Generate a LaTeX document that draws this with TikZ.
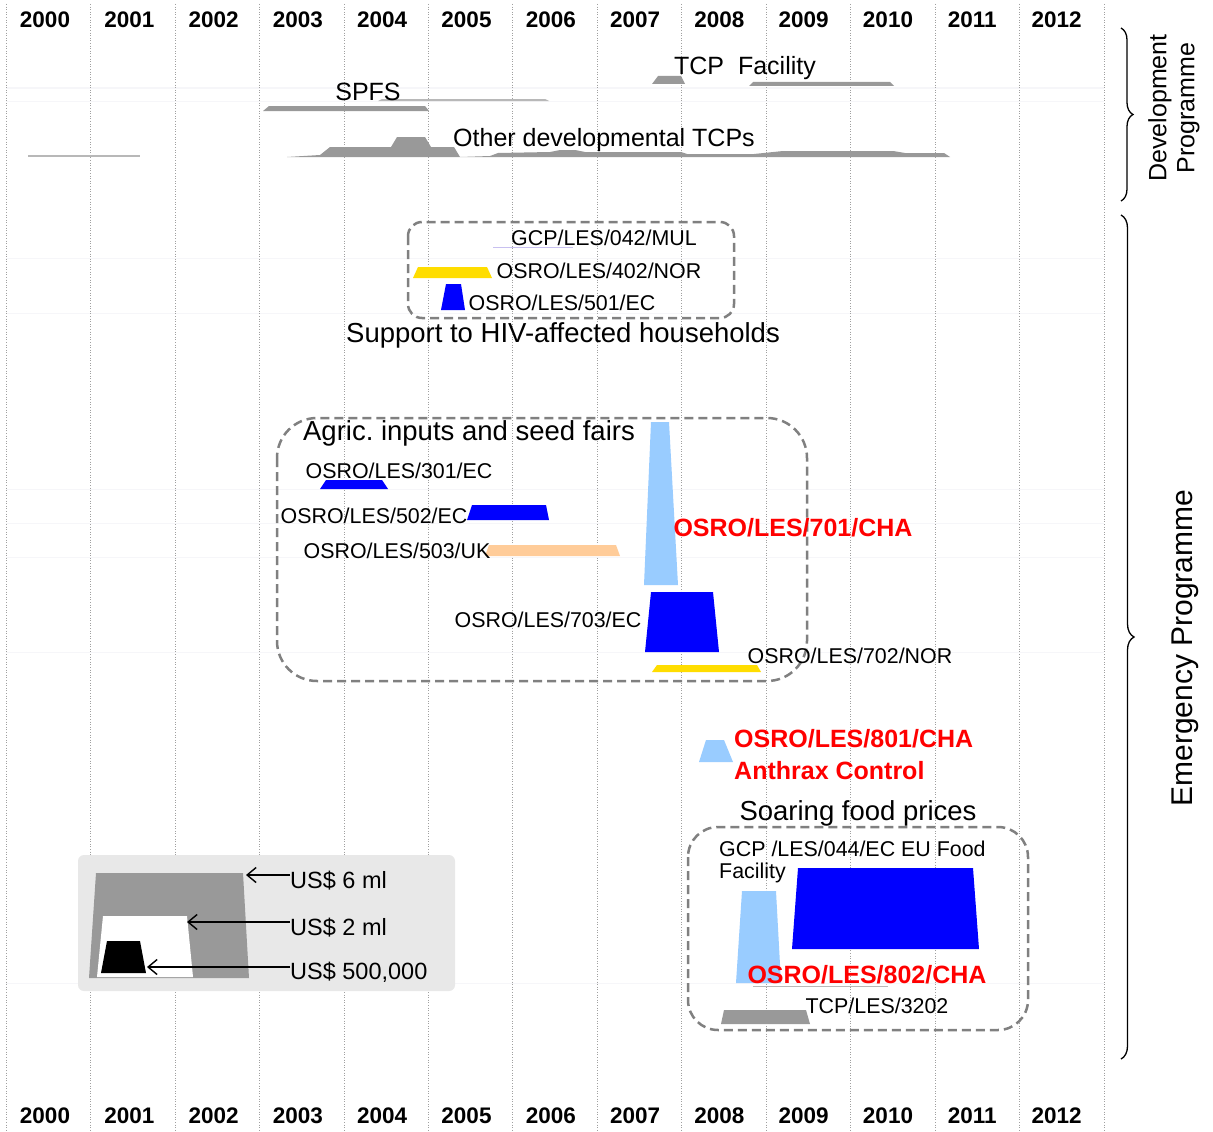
\documentclass[tikz,border=0pt]{standalone}
\usepackage{fontspec}
\setmainfont{Liberation Sans}
\usetikzlibrary{arrows.meta,decorations.pathreplacing}
\definecolor{gridgrey}{HTML}{A0A0A0}
\definecolor{bargrey}{HTML}{999999}
\definecolor{thingrey}{HTML}{B8B8B8}
\definecolor{boxgrey}{HTML}{808080}
\definecolor{legendbg}{HTML}{E8E8E8}
\definecolor{fundblue}{HTML}{0000FF}
\definecolor{fundlight}{HTML}{99CCFF}
\definecolor{fundyellow}{HTML}{FFDD00}
\definecolor{fundpeach}{HTML}{FFCC99}
\definecolor{fundred}{HTML}{FF0000}
\definecolor{faintline}{HTML}{F6F6F9}
\definecolor{lilac}{HTML}{C8C0F0}
% trapezoid bar: colour, bottom-left x, bottom-right x, top-left x, top-right x, top y, bottom y
\newcommand\fundbar[7]{\fill[#1] (#2,#7) -- (#3,#7) -- (#5,#6) -- (#4,#6) -- cycle;}
\tikzset{
  yearlab/.style={font=\fontsize{22.5}{26}\selectfont\bfseries, inner sep=0pt},
  projlab/.style={font=\fontsize{21.4}{25}\selectfont, inner sep=0pt},
  grouplab/.style={font=\fontsize{27.5}{31}\selectfont, inner sep=0pt},
  devlab/.style={font=\fontsize{25}{29}\selectfont, inner sep=0pt},
  redlab/.style={font=\fontsize{25}{29}\selectfont\bfseries, text=fundred, inner sep=0pt},
  leglab/.style={font=\fontsize{23.5}{28}\selectfont, inner sep=0pt, anchor=west},
  groupbox/.style={draw=boxgrey, line width=2.5pt, dash pattern=on 9pt off 5pt},
  legarrow/.style={line width=1.4pt, -{Straight Barb[length=9pt,width=15pt,line width=1.4pt]}},
  gridline/.style={gridgrey, line width=0.6pt, dotted},
  bracepath/.style={decorate, line width=1.3pt},
}
\begin{document}
\begin{tikzpicture}[x=1pt,y=-1pt]
\useasboundingbox (0,0) rectangle (1213,1132);
\fill[white] (0,0) rectangle (1213,1132);

% faint horizontal guide lines
\foreach \yy in {88,101,258,313,489,523,557,652,983}
  \draw[faintline, line width=1pt] (6,\yy) -- (1104,\yy);

% yearly grid
\foreach \k in {0,...,13}
  \draw[gridline] ({6+84.46*\k},4) -- ({6+84.46*\k},1132);

% year labels, top and bottom
\foreach \k/\yr in {0/2000,1/2001,2/2002,3/2003,4/2004,5/2005,6/2006,7/2007,8/2008,9/2009,10/2010,11/2011,12/2012}{
  \node[yearlab] (yt\yr) at ({45+84.3*\k},20) {\yr};
  \node[yearlab] (yb\yr) at ({45+84.3*\k},1116) {\yr};
}

% ---- development programme ----
\draw[thingrey, line width=2pt] (28,156) -- (140,156);
\fill[thingrey] (378,101) -- (382,99) -- (545,99) -- (549,101) -- cycle;
\fundbar{bargrey}{263}{429}{269}{425}{106}{111}
\node[devlab] (spfs) at (368,92) {SPFS};
\fundbar{bargrey}{652}{685}{658}{681}{76}{84}
\fundbar{bargrey}{749}{894}{753}{890}{82}{86}
\node[devlab] (tcpf) at (745,68) {TCP\ \ Facility};
\fill[bargrey] (287,157) -- (320,155) -- (330,147) -- (391,147) -- (397,137)
  -- (425,137) -- (431,147) -- (454,147) -- (460,157) -- (490,156) -- (498,153)
  -- (550,152) -- (560,150) -- (575,150) -- (585,152) -- (681,152) -- (687,154)
  -- (754,154) -- (783,151) -- (893,151) -- (905,153) -- (944,153) -- (950,157) -- cycle;
\node[devlab] (otcp) at (604,140) {Other developmental TCPs};

% ---- support to HIV-affected households ----
\draw[groupbox, rounded corners=14pt] (408,222) rectangle (734,318);
\draw[lilac, line width=1pt] (493,247) -- (573,247);
\node[projlab] (p042) at (604,238) {GCP/LES/042/MUL};
\fundbar{fundyellow}{413}{492}{418}{487}{267}{278}
\node[projlab] (p402) at (599,271) {OSRO/LES/402/NOR};
\fundbar{fundblue}{441}{465}{446}{461}{284}{310}
\node[projlab] (p501) at (562,303) {OSRO/LES/501/EC};
\node[grouplab] (ghiv) at (563,335) {Support to HIV-affected households};

% ---- agricultural inputs and seed fairs ----
\draw[groupbox, rounded corners=40pt] (277,418) rectangle (807,681);
\node[grouplab] (gagr) at (469,433) {Agric.\ inputs and seed fairs};
\fundbar{fundblue}{320}{388}{326}{382}{480}{489}
\node[projlab] (p301) at (399,471) {OSRO/LES/301/EC};
\fundbar{fundblue}{467}{549}{472}{546}{505}{520}
\node[projlab] (p502) at (374,516) {OSRO/LES/502/EC};
\fundbar{fundpeach}{485}{620}{489}{616}{545}{556}
\node[projlab] (p503) at (397,551) {OSRO/LES/503/UK};
\fundbar{fundlight}{644}{678}{651}{669}{422}{585}
\node[redlab] (p701) at (793,528) {OSRO/LES/701/CHA};
\fundbar{fundblue}{645}{719}{651}{713}{592}{652}
\node[projlab] (p703) at (548,620) {OSRO/LES/703/EC};
\fundbar{fundyellow}{652}{761}{657}{757}{665}{672}
\node[projlab] (p702) at (850,656) {OSRO/LES/702/NOR};

% ---- anthrax control ----
\fundbar{fundlight}{699}{733}{706}{724}{740}{762}
\node[redlab, anchor=west] (p801) at (734,739) {OSRO/LES/801/CHA};
\node[redlab, anchor=west] (anth) at (734,771) {Anthrax Control};

% ---- soaring food prices ----
\node[grouplab] (gsfp) at (858,813) {Soaring food prices};
\draw[groupbox, rounded corners=30pt] (688,827) rectangle (1028,1030);
\node[projlab, anchor=north west, align=left, font=\fontsize{21.4}{22}\selectfont] (p044) at (719,841) {GCP /LES/044/EC EU Food\\Facility};
\fundbar{fundblue}{792}{979}{798}{973}{868}{949}
\fundbar{fundlight}{736}{781}{742}{776}{891}{983}
\draw[thingrey, line width=1pt] (753,986) -- (888,986);
\node[redlab] (p802) at (867,975) {OSRO/LES/802/CHA};
\fundbar{bargrey}{721}{810}{724}{806}{1010}{1024}
\node[projlab] (p3202) at (877,1006) {TCP/LES/3202};

% ---- legend ----
\fill[legendbg, rounded corners=6pt] (78,855) rectangle (455,991);
\fundbar{bargrey}{89}{249}{96}{243}{873}{978}
\fundbar{white}{97}{193}{103}{187}{916}{977}
\fundbar{black}{101}{146}{107}{140}{941}{973}
\node[leglab] (l6) at (290,881) {US\$ 6 ml};
\node[leglab] (l2) at (290,928) {US\$ 2 ml};
\node[leglab] (l05) at (290,972) {US\$ 500,000};
\coordinate (c6) at (246,875);
\coordinate (c2) at (187,922);
\coordinate (c05) at (147,967);
\draw[legarrow] ([yshift=6pt]l6.west) -- (c6);
\draw[legarrow] ([yshift=6pt]l2.west) -- (c2);
\draw[legarrow] ([yshift=5pt]l05.west) -- (c05);

% ---- programme braces ----
\coordinate (dtop) at (1121,28);
\coordinate (dbot) at (1121,201);
\draw[bracepath, decoration={brace, amplitude=12pt}] (dtop) -- (dbot);
\node[font=\fontsize{25}{28}\selectfont, rotate=90, align=center, inner sep=0pt] (devp) at (1174,108) {Development\\Programme};
\coordinate (etop) at (1121,215);
\coordinate (ebot) at (1121,1059);
\draw[bracepath, decoration={brace, amplitude=13pt}] (etop) -- (ebot);
\node[font=\fontsize{30}{34}\selectfont, rotate=90, inner sep=0pt] (emep) at (1185,648) {Emergency Programme};
\end{tikzpicture}
\end{document}
